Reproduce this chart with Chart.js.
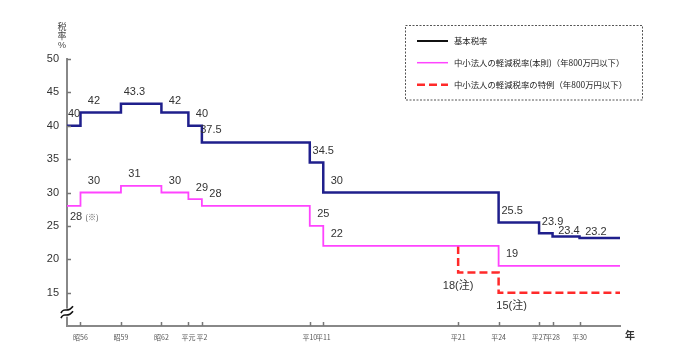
<!DOCTYPE html>
<html>
<head>
<meta charset="utf-8">
<script src="https://cdn.jsdelivr.net/npm/chart.js@4.4.1/dist/chart.umd.min.js"></script>
<style>
  html, body { margin: 0; padding: 0; background: #fff; }
  #wrap { position: relative; width: 700px; height: 356px; }
</style>
</head>
<body>
<div id="wrap"><canvas id="c" width="700" height="356"></canvas></div>
<script>
// ---- data ----
const baseYears = [1980, 1981, 1984, 1987, 1989, 1990, 1998, 1999, 2012, 2015, 2016, 2018, 2021];
const baseRate  = [40, 42, 43.3, 42, 40, 37.5, 34.5, 30, 25.5, 23.9, 23.4, 23.2, 23.2];
const smallYears = [1980, 1981, 1984, 1987, 1989, 1990, 1998, 1999, 2012, 2021];
const smallRate  = [28, 30, 31, 30, 29, 28, 25, 22, 19, 19];
const specialYears = [2009, 2009, 2012, 2021];
const specialRate  = [22, 18, 15, 15];
const tickYears  = [1981, 1984, 1987, 1989, 1990, 1998, 1999, 2009, 2012, 2015, 2016, 2018];
const tickLabels = ['昭56', '昭59', '昭62', '平元', '平2', '平10', '平11', '平21', '平24', '平27', '平28', '平30'];
const seriesNames = ['基本税率', '中小法人の軽減税率(本則)（年800万円以下）', '中小法人の軽減税率の特例（年800万円以下）'];
const baseLabels = ['40', '42', '43.3', '42', '40', '37.5', '34.5', '30', '25.5', '23.9', '23.4', '23.2'];
const smallLabels = ['28', '30', '31', '30', '29', '28', '25', '22', '19'];
const specialLabels = [null, '18(注)', '15(注)', null];

// ---- layout (pixel offsets of value labels from their step point) ----
const DEF = [13.5, -11.7];
const baseOffsets = [[7, -12], DEF, DEF, DEF, DEF, [9, -12.7], DEF, DEF, DEF, DEF, [16.4, -5.7], [16.4, -6]];
const smallOffsets = [[9, 10.7], DEF, DEF, DEF, DEF, DEF, DEF, DEF, DEF];
const specialOffsets = [null, [0, 13.3], [13, 13.3], null];

const COL_BASE = '#1f1f8c', COL_SMALL = '#ff44ff', COL_SPECIAL = '#ff2a2a';
const FONT_JP = "'Noto Sans CJK JP', 'Noto Sans', sans-serif";
const FONT_NUM = "'Liberation Sans', Arial, 'Noto Sans CJK JP', sans-serif";

const toXY = (xs, ys) => xs.map((x, i) => ({ x: x, y: ys[i] }));

const extras = {
  id: 'extras',
  afterDraw(chart) {
    const ctx = chart.ctx;
    const xs = chart.scales.x, ys = chart.scales.y;
    const ca = chart.chartArea;
    ctx.save();
    // tick marks
    ctx.strokeStyle = '#777';
    ctx.lineWidth = 1.5;
    for (let v = 15; v <= 50; v += 5) {
      const py = Math.round(ys.getPixelForValue(v)) + 0.5;
      ctx.beginPath(); ctx.moveTo(ca.left, py); ctx.lineTo(ca.left + 4, py); ctx.stroke();
    }
    tickYears.forEach(yr => {
      const px = Math.round(xs.getPixelForValue(yr)) + 0.5;
      ctx.beginPath(); ctx.moveTo(px, ca.bottom); ctx.lineTo(px, ca.bottom - 4); ctx.stroke();
    });
    // axis break symbol
    const bx = ca.left, by = ys.getPixelForValue(12);
    ctx.fillStyle = '#fff';
    ctx.fillRect(bx - 5, by - 4, 10, 8);
    ctx.strokeStyle = '#111';
    ctx.lineWidth = 1.6;
    [-2.5, 2.5].forEach(o => {
      ctx.beginPath();
      ctx.moveTo(bx - 6, by + o + 3);
      ctx.bezierCurveTo(bx - 3, by + o - 4, bx, by + o + 4, bx + 6, by + o - 4);
      ctx.stroke();
    });
    // y title
    ctx.fillStyle = '#444';
    ctx.textAlign = 'center';
    ctx.textBaseline = 'middle';
    ctx.font = '9px ' + FONT_JP;
    ctx.fillText('税', 62, 27);
    ctx.fillText('率', 62, 36);
    ctx.font = '9px ' + FONT_NUM;
    ctx.fillText('%', 62, 46);
    // x unit
    ctx.font = 'bold 10px ' + FONT_JP;
    ctx.fillStyle = '#333';
    ctx.fillText('年', 630, 335);
    // value labels
    ctx.fillStyle = '#333';
    ctx.font = '11px ' + FONT_NUM;
    const drawLabels = (xsArr, vals, labels, offs) => {
      labels.forEach((t, i) => {
        if (!t) return;
        const px = xs.getPixelForValue(xsArr[i]) + offs[i][0];
        const py = ys.getPixelForValue(vals[i]) + offs[i][1];
        ctx.fillText(t, px, py);
      });
    };
    drawLabels(baseYears, baseRate, baseLabels, baseOffsets);
    drawLabels(smallYears, smallRate, smallLabels, smallOffsets);
    drawLabels(specialYears, specialRate, specialLabels, specialOffsets);
    // (※) note
    ctx.font = '8px ' + FONT_JP;
    ctx.fillStyle = '#555';
    ctx.fillText('(※)', xs.getPixelForValue(smallYears[0]) + smallOffsets[0][0] + 16, ys.getPixelForValue(smallRate[0]) + smallOffsets[0][1]);
    // legend
    ctx.strokeStyle = '#555';
    ctx.lineWidth = 1;
    ctx.setLineDash([2, 1.5]);
    ctx.strokeRect(405.5, 25.5, 237, 74.5);
    ctx.setLineDash([]);
    const ly = [41, 62.7, 84.7];
    const lstyle = [
      { c: '#111', w: 2, d: [] },
      { c: COL_SMALL, w: 1.5, d: [] },
      { c: COL_SPECIAL, w: 2.5, d: [8, 4] }
    ];
    ctx.textAlign = 'left';
    ctx.font = '8.4px ' + FONT_JP;
    seriesNames.forEach((n, i) => {
      ctx.strokeStyle = lstyle[i].c;
      ctx.lineWidth = lstyle[i].w;
      ctx.setLineDash(lstyle[i].d);
      ctx.beginPath(); ctx.moveTo(417, ly[i]); ctx.lineTo(448, ly[i]); ctx.stroke();
      ctx.setLineDash([]);
      ctx.fillStyle = '#222';
      ctx.fillText(n, 454, ly[i]);
    });
    ctx.restore();
  }
};

new Chart(document.getElementById('c'), {
  type: 'line',
  data: {
    datasets: [
      { label: seriesNames[0], data: toXY(baseYears, baseRate), borderColor: COL_BASE, borderWidth: 2.5, stepped: true, pointRadius: 0, fill: false },
      { label: seriesNames[1], data: toXY(smallYears, smallRate), borderColor: COL_SMALL, borderWidth: 1.8, stepped: true, pointRadius: 0, fill: false },
      { label: seriesNames[2], data: toXY(specialYears, specialRate), borderColor: COL_SPECIAL, borderWidth: 2.5, borderDash: [8, 4], stepped: true, pointRadius: 0, fill: false }
    ]
  },
  options: {
    responsive: false,
    animation: false,
    layout: { padding: { top: 59, right: 80, left: 0, bottom: 0 } },
    plugins: { legend: { display: false }, tooltip: { enabled: false } },
    scales: {
      x: {
        type: 'linear', min: 1980, max: 2021,
        afterFit: s => { s.height = 30; },
        afterBuildTicks: s => { s.ticks = tickYears.map(v => ({ value: v })); },
        grid: { display: false, drawTicks: false },
        border: { display: true, color: '#888', width: 2 },
        ticks: {
          autoSkip: false, maxRotation: 0, padding: 7,
          color: '#555', font: { size: 7, family: FONT_JP },
          callback: v => { const i = tickYears.indexOf(v); return i >= 0 ? tickLabels[i] : ''; }
        }
      },
      y: {
        min: 10, max: 50,
        afterFit: s => { s.width = 67; },
        grid: { display: false, drawTicks: false },
        border: { display: true, color: '#888', width: 2 },
        ticks: {
          stepSize: 5, padding: 8, color: '#333',
          font: { size: 11, family: FONT_NUM },
          callback: v => v === 10 ? '' : v
        }
      }
    }
  },
  plugins: [extras]
});
</script>
</body>
</html>
